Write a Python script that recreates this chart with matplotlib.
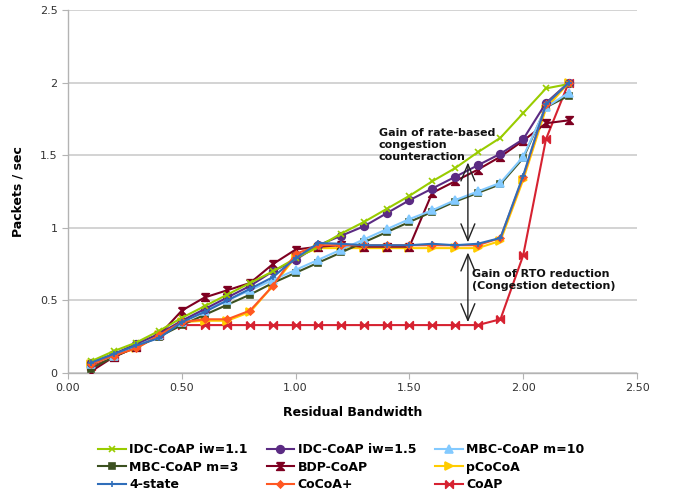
import matplotlib
matplotlib.use("Agg")
import matplotlib.pyplot as plt

plt.rcParams['font.family'] = ['DejaVu Sans']

bandwidth = [0.1, 0.2, 0.3, 0.4, 0.5, 0.6, 0.7, 0.8, 0.9, 1.0, 1.1,
             1.2, 1.3, 1.4, 1.5, 1.6, 1.7, 1.8, 1.9, 2.0, 2.1, 2.2]

idc_11 = [0.08, 0.15, 0.21, 0.29, 0.38, 0.46, 0.54, 0.62, 0.70, 0.79, 0.87,
          0.96, 1.04, 1.13, 1.22, 1.32, 1.41, 1.52, 1.62, 1.79, 1.96, 1.99]
idc_15 = [0.07, 0.13, 0.20, 0.27, 0.36, 0.44, 0.52, 0.60, 0.70, 0.78, 0.88,
          0.945, 1.01, 1.10, 1.19, 1.27, 1.35, 1.43, 1.51, 1.61, 1.86, 2.0]
mbc_10 = [0.06, 0.12, 0.19, 0.26, 0.35, 0.43, 0.50, 0.57, 0.64, 0.71, 0.78,
          0.85, 0.92, 0.99, 1.06, 1.12, 1.19, 1.25, 1.31, 1.49, 1.83, 1.93]
mbc_3 = [0.03, 0.11, 0.18, 0.25, 0.33, 0.40, 0.47, 0.54, 0.62, 0.69, 0.76,
         0.83, 0.90, 0.97, 1.04, 1.11, 1.18, 1.24, 1.30, 1.48, 1.83, 1.91]
bdp = [0.01, 0.11, 0.18, 0.26, 0.43, 0.52, 0.57, 0.62, 0.75, 0.85, 0.87,
       0.88, 0.87, 0.87, 0.87, 1.24, 1.32, 1.40, 1.49, 1.60, 1.72, 1.74]
pcocoa = [0.06, 0.12, 0.17, 0.26, 0.35, 0.36, 0.36, 0.42, 0.60, 0.80, 0.86,
          0.86, 0.86, 0.86, 0.86, 0.86, 0.86, 0.86, 0.91, 1.33, 1.82, 2.0]
four_state = [0.07, 0.13, 0.19, 0.24, 0.35, 0.42, 0.50, 0.58, 0.66, 0.79, 0.895,
              0.89, 0.88, 0.88, 0.88, 0.89, 0.88, 0.89, 0.93, 1.36, 1.85, 2.0]
cocoa_plus = [0.06, 0.12, 0.17, 0.26, 0.35, 0.37, 0.37, 0.43, 0.60, 0.82, 0.88,
              0.88, 0.88, 0.88, 0.88, 0.88, 0.88, 0.88, 0.93, 1.35, 1.85, 2.0]
coap = [0.05, 0.11, 0.18, 0.26, 0.33, 0.33, 0.33, 0.33, 0.33, 0.33, 0.33,
        0.33, 0.33, 0.33, 0.33, 0.33, 0.33, 0.33, 0.37, 0.81, 1.61, 2.0]

x_ticks = [0.0, 0.5, 1.0, 1.5, 2.0, 2.5]
x_tick_labels = ["0.00", "0.50", "1.00", "1.50", "2.00", "2.50"]
y_ticks = [0, 0.5, 1, 1.5, 2, 2.5]
y_tick_labels = ["0", "0.5", "1", "1.5", "2", "2.5"]

# custom hourglass / bowtie marker shapes
hourglass = [(-1, 1), (1, 1), (-1, -1), (1, -1), (-1, 1)]
bowtie = [(-1, 1), (-1, -1), (1, 1), (1, -1), (-1, 1)]

series = [
    # label, data, color, marker, markersize, zorder
    ("IDC-CoAP iw=1.1", idc_11, "#99CC00", "x", 5, 12),
    ("IDC-CoAP iw=1.5", idc_15, "#5B2B83", "o", 5.5, 11),
    ("MBC-CoAP m=10", mbc_10, "#83CAFF", "^", 5.5, 10),
    ("MBC-CoAP m=3", mbc_3, "#3C5120", "s", 4.5, 9),
    ("BDP-CoAP", bdp, "#7E0021", hourglass, 5.5, 8),
    ("pCoCoA", pcocoa, "#FFCC00", ">", 5.5, 7),
    ("4-state", four_state, "#2F6EBA", "+", 5, 14),
    ("CoCoA+", cocoa_plus, "#FF5722", "D", 3.5, 13),
    ("CoAP", coap, "#D62231", bowtie, 5.5, 6),
]

fig = plt.figure(figsize=(6.76, 4.93), dpi=100)
ax = fig.add_axes([68 / 676, 1 - 373 / 493, (637 - 68) / 676, (373 - 10) / 493])

handles = {}
for label, vals, color, marker, ms, z in series:
    ln, = ax.plot(bandwidth, vals, color=color, marker=marker, markersize=ms,
                  linewidth=1.5, markeredgewidth=1.2, markerfacecolor=color,
                  markeredgecolor=color, zorder=z, label=label)
    handles[label] = ln

ax.set_xlim(0, 2.5)
ax.set_ylim(0, 2.5)
ax.set_xticks(x_ticks)
ax.set_xticklabels(x_tick_labels)
ax.set_yticks(y_ticks)
ax.set_yticklabels(y_tick_labels)
ax.tick_params(axis='both', labelsize=8, colors='#333333', length=4,
               width=0.8, color='#B3B3B3')
ax.grid(axis='y', color='#CCCCCC', linewidth=1.2, zorder=0)
ax.set_axisbelow(True)
for side in ("top", "right"):
    ax.spines[side].set_visible(False)
for side in ("left", "bottom"):
    ax.spines[side].set_color('#B3B3B3')
    ax.spines[side].set_linewidth(1.0)

ax.set_xlabel("Residual Bandwidth", fontsize=9, fontweight='bold', labelpad=9)
ax.set_ylabel("Packets / sec", fontsize=9, fontweight='bold', labelpad=11)

# gain annotations with double-headed arrows
arrow_x = 1.757
arrow_style = "<->,head_length=1.2,head_width=0.5"
ax.annotate("", xy=(arrow_x, 0.90), xytext=(arrow_x, 1.45),
            arrowprops=dict(arrowstyle=arrow_style, color="#222222", lw=1.0,
                            shrinkA=0, shrinkB=0),
            zorder=20)
ax.annotate("", xy=(arrow_x, 0.35), xytext=(arrow_x, 0.83),
            arrowprops=dict(arrowstyle=arrow_style, color="#222222", lw=1.0,
                            shrinkA=0, shrinkB=0),
            zorder=20)
ax.text(1.365, 1.685, "Gain of rate-based\ncongestion\ncounteraction",
        fontsize=8, fontweight='bold', color='#111111', va='top', ha='left',
        linespacing=1.25, zorder=21)
ax.text(1.775, 0.715, "Gain of RTO reduction\n(Congestion detection)",
        fontsize=8, fontweight='bold', color='#111111', va='top', ha='left',
        linespacing=1.25, zorder=21)

# legend laid out row-wise in three columns
order = ["IDC-CoAP iw=1.1", "MBC-CoAP m=3", "4-state",
         "IDC-CoAP iw=1.5", "BDP-CoAP", "CoCoA+",
         "MBC-CoAP m=10", "pCoCoA", "CoAP"]
fig.legend([handles[k] for k in order], order, loc='upper left',
           bbox_to_anchor=(98 / 676, 1 - 443 / 493), ncol=3, frameon=False,
           prop=dict(size=9, weight='bold'), handlelength=2.2,
           handletextpad=0.3, columnspacing=1.5, labelspacing=0.38,
           borderaxespad=0, borderpad=0)

fig.savefig("out.png", dpi=100)
